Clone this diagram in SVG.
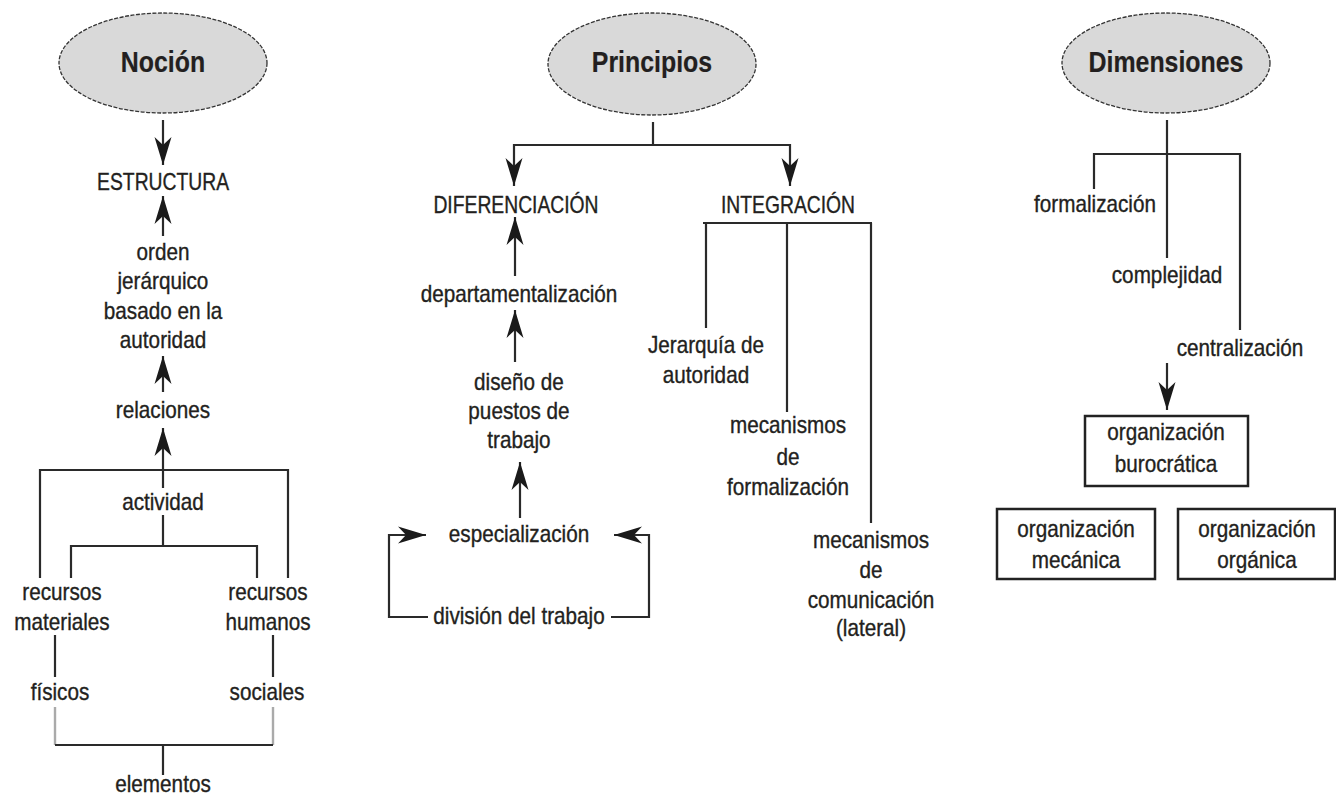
<svg xmlns="http://www.w3.org/2000/svg" width="1336" height="797" viewBox="0 0 1336 797">
<style>
text{font-family:"Liberation Sans",Arial,sans-serif;fill:#231f20;stroke:#231f20;stroke-width:0.35;text-anchor:middle;font-size:23px;transform-box:fill-box;transform-origin:center;transform:scaleX(.9)}
text.cap{transform:scaleX(.84)}
text.title{font-weight:bold;font-size:30px;stroke-width:0.2;transform:scaleX(.83)}
.oval{fill:#d9d9d9;stroke:#333;stroke-width:1.3;stroke-dasharray:4 1.5}
.box{fill:#fff;stroke:#222;stroke-width:2.5}
.c{fill:none;stroke:#2a2a2a;stroke-width:2.2}
.g{fill:none;stroke:#aaa;stroke-width:2.4}
.a{marker-end:url(#ah)}
</style>
<defs>
<marker id="ah" markerUnits="userSpaceOnUse" viewBox="-30 -10 31 20" markerWidth="31" markerHeight="20" refX="0" refY="0" orient="auto">
<path d="M0,0 L-28,-8.5 L-20,0 L-28,8.5 Z" fill="#1a1a1a"/>
</marker>
</defs>
<rect width="1336" height="797" fill="#fff"/>
<g id="connectors">
<path class="c a" d="M163,120 V165"/>
<path class="c a" d="M163,236 V196"/>
<path class="c a" d="M163,392 V356"/>
<path class="c a" d="M163,488 V428"/>
<path class="c" d="M40,578 V470 H288 V578"/>
<path class="c" d="M163,515 V546 M71,578 V546 H257 V578"/>
<path class="c" d="M55,635 V677 M273,635 V677"/>
<path class="g" d="M55,707 V745 M273,707 V745"/>
<path class="c" d="M55,745 H273 M163,745 V775"/>
<path class="c" d="M653,122 V145"/>
<path class="c a" d="M653,145 H514 V186"/>
<path class="c a" d="M653,145 H790 V186"/>
<path class="c a" d="M515,276 V217"/>
<path class="c a" d="M515,362 V310"/>
<path class="c a" d="M520,518 V462"/>
<path class="c a" d="M428,617 H389 V535 H426"/>
<path class="c a" d="M611,617 H649 V535 H614"/>
<path class="c" d="M703,223 H872 M706,223 V328 M787,223 V412 M871,223 V523"/>
<path class="c" d="M1167,120 V258 M1094,189 V154 H1240 V330"/>
<path class="c a" d="M1167,363 V410"/>
</g>
<g id="nocion"><ellipse class="oval" cx="163" cy="63" rx="104" ry="50"/><text class="title" x="163" y="72">Noción</text></g>
<g id="estructura"><text class="cap" x="163" y="190">ESTRUCTURA</text></g>
<g id="orden"><text x="163" y="260">orden</text><text x="163" y="289.5">jerárquico</text><text x="163" y="319">basado en la</text><text x="163" y="348">autoridad</text></g>
<g id="relaciones"><text x="163" y="418">relaciones</text></g>
<g id="actividad"><text x="163" y="510">actividad</text></g>
<g id="recursos-materiales"><text x="62" y="600">recursos</text><text x="62" y="630">materiales</text></g>
<g id="recursos-humanos"><text x="268" y="600">recursos</text><text x="268" y="630">humanos</text></g>
<g id="fisicos"><text x="60" y="700">físicos</text></g>
<g id="sociales"><text x="267" y="700">sociales</text></g>
<g id="elementos"><text x="163" y="792">elementos</text></g>
<g id="principios"><ellipse class="oval" cx="652" cy="64" rx="104" ry="51"/><text class="title" x="652" y="72">Principios</text></g>
<g id="diferenciacion"><text class="cap" x="516" y="213">DIFERENCIACIÓN</text></g>
<g id="integracion"><text class="cap" x="788" y="213">INTEGRACIÓN</text></g>
<g id="departamentalizacion"><text x="519" y="302">departamentalización</text></g>
<g id="diseno"><text x="519" y="390">diseño de</text><text x="519" y="419">puestos de</text><text x="519" y="448">trabajo</text></g>
<g id="especializacion"><text x="519" y="542">especialización</text></g>
<g id="division"><text x="519" y="624">división del trabajo</text></g>
<g id="jerarquia"><text x="706" y="353">Jerarquía de</text><text x="706" y="383">autoridad</text></g>
<g id="mec-formalizacion"><text x="788" y="433">mecanismos</text><text x="788" y="465">de</text><text x="788" y="495">formalización</text></g>
<g id="mec-comunicacion"><text x="871" y="548">mecanismos</text><text x="871" y="578">de</text><text x="871" y="608">comunicación</text><text x="871" y="636">(lateral)</text></g>
<g id="dimensiones"><ellipse class="oval" cx="1166" cy="63" rx="104" ry="50"/><text class="title" x="1166" y="72">Dimensiones</text></g>
<g id="formalizacion"><text x="1095" y="212">formalización</text></g>
<g id="complejidad"><text x="1167" y="283">complejidad</text></g>
<g id="centralizacion"><text x="1240" y="356">centralización</text></g>
<g id="burocratica"><rect class="box" x="1085" y="416" width="163" height="70"/><text x="1166" y="440">organización</text><text x="1166" y="472">burocrática</text></g>
<g id="mecanica"><rect class="box" x="997" y="509" width="158" height="70"/><text x="1076" y="537">organización</text><text x="1076" y="568">mecánica</text></g>
<g id="organica"><rect class="box" x="1178" y="509" width="157" height="70"/><text x="1257" y="537">organización</text><text x="1257" y="568">orgánica</text></g>
</svg>
